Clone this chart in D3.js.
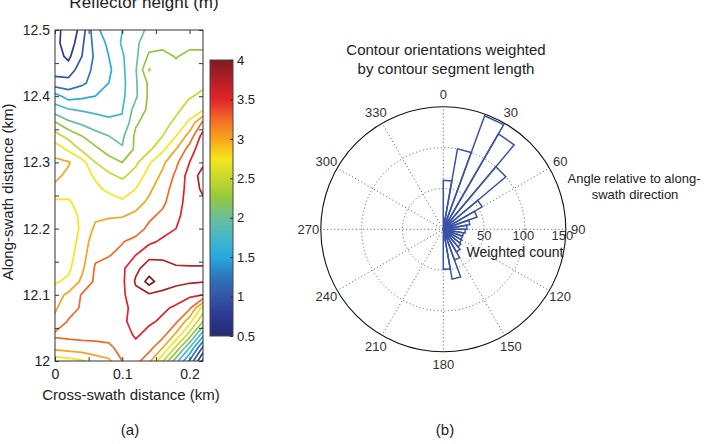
<!DOCTYPE html>
<html><head><meta charset="utf-8">
<script src="https://cdn.jsdelivr.net/npm/d3@7"></script>
<style>
body{margin:0;background:#fff;}
svg{display:block;font-family:"Liberation Sans",Arial,Helvetica,sans-serif;}
</style></head><body>
<svg id="chart" width="707" height="444"></svg>
<script>
// ---------------- DATA ----------------
// Grid of reflector heights (m): columns = cross-swath distance, rows = along-swath distance (top to bottom)
const crossSwathKm = [0, 0.02, 0.04, 0.06, 0.08, 0.10, 0.12, 0.14, 0.16, 0.18, 0.20, 0.22];
const alongSwathKm = [12.50, 12.48, 12.46, 12.44, 12.42, 12.40, 12.38, 12.36, 12.34, 12.32, 12.30, 12.28, 12.26,
                      12.24, 12.22, 12.20, 12.18, 12.16, 12.14, 12.12, 12.10, 12.08, 12.06, 12.04, 12.02, 12.00];
const heightRows = [
  [0.90, 0.55, 0.85, 1.45, 1.60, 1.75, 1.90, 2.05, 2.15, 2.20, 2.15, 2.15],
  [0.85, 0.58, 0.95, 1.35, 1.55, 1.78, 1.95, 2.15, 2.20, 2.22, 2.20, 2.20],
  [0.85, 0.70, 1.00, 1.30, 1.50, 1.72, 1.95, 2.30, 2.30, 2.24, 2.30, 2.30],
  [0.90, 0.85, 1.15, 1.30, 1.45, 1.70, 1.98, 2.52, 2.32, 2.30, 2.32, 2.35],
  [1.10, 1.10, 1.20, 1.35, 1.50, 1.68, 1.97, 2.30, 2.35, 2.35, 2.40, 2.45],
  [1.60, 1.40, 1.45, 1.50, 1.60, 1.70, 1.96, 2.30, 2.38, 2.42, 2.48, 2.55],
  [1.85, 1.76, 1.72, 1.70, 1.68, 1.74, 2.10, 2.30, 2.35, 2.45, 2.60, 2.70],
  [2.28, 2.05, 1.95, 1.85, 1.80, 1.77, 2.22, 2.35, 2.42, 2.55, 2.80, 3.30],
  [2.60, 2.42, 2.25, 2.10, 2.00, 1.95, 2.30, 2.42, 2.50, 2.75, 3.10, 3.60],
  [2.90, 2.70, 2.45, 2.30, 2.15, 2.02, 2.30, 2.45, 2.70, 3.00, 3.35, 3.70],
  [3.05, 3.02, 2.85, 2.50, 2.35, 2.25, 2.45, 2.72, 2.95, 3.20, 3.50, 3.70],
  [3.05, 2.95, 2.85, 2.72, 2.55, 2.45, 2.60, 2.85, 3.05, 3.30, 3.60, 3.85],
  [2.95, 2.85, 2.85, 2.80, 2.70, 2.65, 2.75, 2.95, 3.15, 3.35, 3.60, 3.80],
  [2.70, 2.72, 2.85, 2.90, 2.85, 2.78, 2.90, 3.05, 3.20, 3.40, 3.60, 3.70],
  [2.60, 2.65, 2.80, 2.95, 2.97, 2.98, 3.05, 3.20, 3.30, 3.45, 3.60, 3.65],
  [2.60, 2.65, 2.78, 3.05, 3.10, 3.12, 3.15, 3.30, 3.40, 3.50, 3.55, 3.60],
  [2.60, 2.62, 2.85, 3.15, 3.22, 3.24, 3.32, 3.45, 3.55, 3.60, 3.60, 3.60],
  [2.62, 2.65, 2.90, 3.20, 3.24, 3.30, 3.50, 3.70, 3.72, 3.65, 3.62, 3.62],
  [2.65, 2.70, 2.95, 3.28, 3.32, 3.45, 3.70, 3.85, 3.80, 3.78, 3.78, 3.78],
  [2.72, 2.80, 3.05, 3.30, 3.32, 3.45, 3.78, 4.10, 3.85, 3.80, 3.78, 3.76],
  [2.90, 3.05, 3.27, 3.30, 3.32, 3.45, 3.68, 3.72, 3.70, 3.65, 3.55, 3.50],
  [2.97, 3.15, 3.28, 3.30, 3.32, 3.42, 3.60, 3.60, 3.55, 3.45, 3.30, 2.65],
  [3.05, 3.27, 3.30, 3.30, 3.32, 3.45, 3.60, 3.55, 3.45, 3.30, 2.85, 2.27],
  [3.30, 3.32, 3.33, 3.30, 3.30, 3.35, 3.55, 3.40, 3.35, 2.95, 2.40, 1.60],
  [3.08, 3.12, 3.15, 3.20, 3.22, 3.30, 3.40, 3.35, 3.00, 2.45, 1.75, 0.95],
  [2.60, 2.65, 2.72, 2.85, 2.95, 3.25, 3.35, 3.05, 2.53, 1.85, 1.22, 0.45]
];
const contourLevels = [0.5, 0.75, 1, 1.25, 1.5, 1.75, 2, 2.25, 2.5, 2.75, 3, 3.25, 3.5, 3.75, 4];
const colorbarTicks = [0.5, 1, 1.5, 2, 2.5, 3, 3.5, 4];
const xTickValues = [0, 0.05, 0.1, 0.15, 0.2];
const xTickLabeled = [0, 0.1, 0.2];
const yTickValues = [12, 12.05, 12.1, 12.15, 12.2, 12.25, 12.3, 12.35, 12.4, 12.45, 12.5];
const yTickLabeled = [12, 12.1, 12.2, 12.3, 12.4, 12.5];

// Rose histogram: bin start angles (deg), bin width, weighted counts
const roseBinStart = [0, 10, 20, 30, 40, 50, 60, 70, 80, 90, 100, 110, 120, 130, 140, 150, 160, 170];
const roseBinWidth = 10;
const roseCounts = [60, 100, 148, 135, 100, 55, 44, 33, 29, 27, 25, 25, 26, 28, 32, 40, 62, 49];
const roseRings = [50, 100, 150];
const roseAngleLabels = [0, 30, 60, 90, 120, 150, 180, 210, 240, 270, 300, 330];
const roseMax = 150;

// colormap (jet-like, as in the colorbar)
const cmapStops = [0.5, 0.75, 1, 1.25, 1.5, 1.75, 2, 2.25, 2.5, 2.75, 3, 3.25, 3.5, 3.75, 4];
const cmapColors = ["#262a6e", "#2b3990", "#3456a5", "#2f75bd", "#27a9e1", "#45b8c8", "#6abf9b",
                    "#93c83e", "#c5d92d", "#f6e51b", "#f8a31b", "#f26a26", "#e3222a", "#b31f27", "#7e1b1e"];

// ---------------- DRAW ----------------
const svg = d3.select("#chart");
const textColor = "#222";
const color = d3.scaleLinear().domain(cmapStops).range(cmapColors).interpolate(d3.interpolateRgb).clamp(true);

// ----- Panel (a) -----
const xScale = d3.scaleLinear().domain([0, 0.22]).range([55, 203]);
const yScale = d3.scaleLinear().domain([12, 12.5]).range([361, 30]);

svg.append("text").attr("x", 144).attr("y", 8).attr("text-anchor", "middle")
  .attr("font-size", 17).attr("fill", textColor).text("Reflector height (m)");

svg.append("clipPath").attr("id", "plotClip").append("rect")
  .attr("x", xScale(0)).attr("y", yScale(12.5))
  .attr("width", xScale(0.22) - xScale(0)).attr("height", yScale(12) - yScale(12.5));

const nx = crossSwathKm.length, ny = alongSwathKm.length;
const gxToData = d3.scaleLinear().domain([0.5, nx - 0.5]).range([crossSwathKm[0], crossSwathKm[nx - 1]]);
const gyToData = d3.scaleLinear().domain([0.5, ny - 0.5]).range([alongSwathKm[0], alongSwathKm[ny - 1]]);
const proj = d3.geoTransform({
  point(x, y) { this.stream.point(xScale(gxToData(x)), yScale(gyToData(y))); }
});
const geoPath = d3.geoPath(proj);
const contours = d3.contours().size([nx, ny]).thresholds(contourLevels)(heightRows.flat());

svg.append("g").attr("clip-path", "url(#plotClip)")
  .selectAll("path").data(contours).join("path")
  .attr("d", geoPath)
  .attr("fill", "none")
  .attr("stroke", d => color(d.value))
  .attr("stroke-width", 1.7)
  .attr("stroke-linejoin", "round");

function styleAxis(g) {
  g.select(".domain").remove();
  g.selectAll(".tick line").attr("stroke", "#333");
  g.selectAll(".tick text").attr("fill", textColor).attr("font-size", 14)
    .attr("font-family", '"Liberation Sans",Arial,Helvetica,sans-serif');
}
svg.append("g").attr("transform", `translate(0,${yScale(12)})`)
  .call(d3.axisBottom(xScale).tickValues(xTickValues).tickSize(-4).tickPadding(8)
    .tickFormat(d => xTickLabeled.includes(d) ? String(d) : ""))
  .call(styleAxis);
svg.append("g").attr("transform", `translate(0,${yScale(12.5)})`)
  .call(d3.axisTop(xScale).tickValues(xTickValues).tickSize(-4).tickFormat(""))
  .call(styleAxis);
svg.append("g").attr("transform", `translate(${xScale(0)},0)`)
  .call(d3.axisLeft(yScale).tickValues(yTickValues).tickSize(-4).tickPadding(5)
    .tickFormat(d => yTickLabeled.includes(d) ? String(d) : ""))
  .call(styleAxis);
svg.append("g").attr("transform", `translate(${xScale(0.22)},0)`)
  .call(d3.axisRight(yScale).tickValues(yTickValues).tickSize(-4).tickFormat(""))
  .call(styleAxis);

svg.append("rect").attr("x", xScale(0)).attr("y", yScale(12.5))
  .attr("width", xScale(0.22) - xScale(0)).attr("height", yScale(12) - yScale(12.5))
  .attr("fill", "none").attr("stroke", "#333").attr("stroke-width", 1);

svg.append("text").attr("x", 131).attr("y", 400).attr("text-anchor", "middle")
  .attr("font-size", 15).attr("fill", textColor).text("Cross-swath distance (km)");
svg.append("text").attr("transform", "translate(13,192) rotate(-90)").attr("text-anchor", "middle")
  .attr("font-size", 15).attr("fill", textColor).text("Along-swath distance (km)");
svg.append("text").attr("x", 130).attr("y", 435).attr("text-anchor", "middle")
  .attr("font-size", 15).attr("fill", textColor).text("(a)");

// colorbar
const cbScale = d3.scaleLinear().domain([0.5, 4]).range([336, 60]);
const cbX = 210, cbW = 23;
const grad = svg.append("defs").append("linearGradient").attr("id", "cbGrad")
  .attr("x1", 0).attr("y1", 1).attr("x2", 0).attr("y2", 0);
grad.selectAll("stop").data(d3.range(0, 1.0001, 0.02)).join("stop")
  .attr("offset", d => d)
  .attr("stop-color", d => color(0.5 + d * 3.5));
svg.append("rect").attr("x", cbX).attr("y", cbScale(4)).attr("width", cbW)
  .attr("height", cbScale(0.5) - cbScale(4)).attr("fill", "url(#cbGrad)")
  .attr("stroke", "#444").attr("stroke-width", 1);
const cbAxis = svg.append("g").attr("transform", `translate(${cbX + cbW},0)`)
  .call(d3.axisRight(cbScale).tickValues(colorbarTicks).tickSize(-3).tickPadding(4)
    .tickFormat(d => String(d)));
cbAxis.select(".domain").remove();
cbAxis.selectAll(".tick line").attr("stroke", "#333");
cbAxis.selectAll(".tick text").attr("fill", textColor).attr("font-size", 13)
  .attr("font-family", '"Liberation Sans",Arial,Helvetica,sans-serif');

// ----- Panel (b) -----
const cx = 443.3, cy = 229.3, R = 122.5;
const rScale = d3.scaleLinear().domain([0, roseMax]).range([0, R]);
const toRad = d => d * Math.PI / 180;
const gPolar = svg.append("g").attr("transform", `translate(${cx},${cy})`);

svg.append("text").attr("x", 446).attr("y", 55).attr("text-anchor", "middle")
  .attr("font-size", 15).attr("fill", textColor).text("Contour orientations weighted");
svg.append("text").attr("x", 446).attr("y", 74).attr("text-anchor", "middle")
  .attr("font-size", 15).attr("fill", textColor).text("by contour segment length");

// grid rings
gPolar.selectAll("circle.ring").data(roseRings.filter(v => v < roseMax)).join("circle")
  .attr("class", "ring").attr("r", d => rScale(d))
  .attr("fill", "none").attr("stroke", "#555").attr("stroke-width", 1).attr("stroke-dasharray", "1,2.6");
// spokes
const spokeLine = d3.lineRadial().angle(d => toRad(d[0])).radius(d => d[1]);
gPolar.selectAll("path.spoke").data(roseAngleLabels).join("path")
  .attr("class", "spoke")
  .attr("d", a => spokeLine([[a, 0], [a, R]]))
  .attr("stroke", "#555").attr("stroke-width", 1).attr("stroke-dasharray", "1,2.6");
// outer circle
gPolar.append("circle").attr("r", rScale(roseMax)).attr("fill", "none")
  .attr("stroke", "#111").attr("stroke-width", 1.1);

// rose bars
const roseLine = d3.lineRadial().angle(d => toRad(d[0])).radius(d => rScale(d[1]));
gPolar.selectAll("path.bar").data(roseBinStart.map((s, i) => ({ s, c: roseCounts[i] }))).join("path")
  .attr("class", "bar")
  .attr("d", d => roseLine([[d.s, 0], [d.s, d.c], [d.s + roseBinWidth, d.c], [d.s + roseBinWidth, 0]]) + "Z")
  .attr("fill", "none").attr("stroke", "#3a52a3").attr("stroke-width", 1.5).attr("stroke-linejoin", "miter");

// angle labels
gPolar.selectAll("text.ang").data(roseAngleLabels).join("text")
  .attr("class", "ang")
  .attr("x", a => 135 * Math.sin(toRad(a)))
  .attr("y", a => -135 * Math.cos(toRad(a)))
  .attr("dy", "0.35em").attr("text-anchor", "middle")
  .attr("font-size", 13).attr("fill", "#333").text(a => String(a));
// ring labels
gPolar.selectAll("text.rl").data(roseRings).join("text")
  .attr("class", "rl")
  .attr("x", v => rScale(v) * 0.955 + 2).attr("y", 11)
  .attr("text-anchor", "middle").attr("font-size", 13).attr("fill", "#333").text(v => String(v));

svg.append("text").attr("x", 515).attr("y", 257).attr("text-anchor", "middle")
  .attr("font-size", 14).attr("fill", textColor).text("Weighted count");
svg.append("text").attr("x", 634).attr("y", 183).attr("text-anchor", "middle")
  .attr("font-size", 13).attr("fill", textColor).text("Angle relative to along-");
svg.append("text").attr("x", 635).attr("y", 199).attr("text-anchor", "middle")
  .attr("font-size", 13).attr("fill", textColor).text("swath direction");
svg.append("text").attr("x", 445).attr("y", 435).attr("text-anchor", "middle")
  .attr("font-size", 15).attr("fill", textColor).text("(b)");
</script>
</body></html>
